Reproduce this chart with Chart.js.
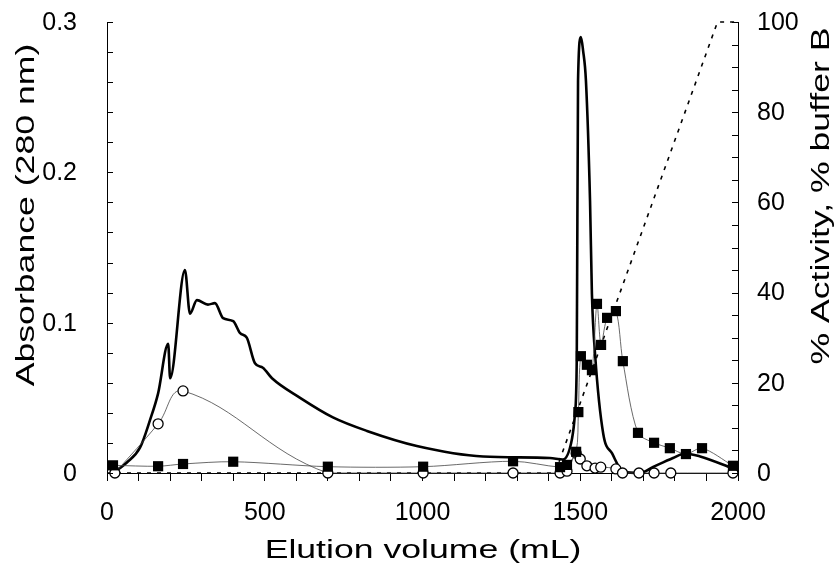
<!DOCTYPE html>
<html>
<head>
<meta charset="utf-8">
<script src="https://cdn.jsdelivr.net/npm/chart.js@4"></script>
<style>
html,body{margin:0;padding:0;background:#fff;}
#wrap{width:837px;height:572px;position:relative;}
</style>
</head>
<body>
<div id="wrap"><canvas id="c" width="837" height="572"></canvas></div>
<script>
// Absorbance at 280 nm (left axis)
const volAbs = [19, 63, 105, 136, 162, 194, 200, 247, 263, 285, 320, 342, 368, 400, 422, 443, 469, 494, 523, 612, 716, 824, 982, 1192, 1404, 1445, 1474, 1483, 1489, 1493, 1502, 1509, 1518, 1531, 1537, 1547, 1573, 1601, 1636, 1690, 1731, 1794, 1832, 1880, 1984];
const absorbance = [0.000, 0.007, 0.017, 0.035, 0.053, 0.086, 0.063, 0.135, 0.106, 0.115, 0.112, 0.113, 0.103, 0.101, 0.093, 0.090, 0.073, 0.070, 0.063, 0.050, 0.037, 0.028, 0.018, 0.011, 0.010, 0.009, 0.023, 0.039, 0.077, 0.261, 0.290, 0.281, 0.261, 0.181, 0.119, 0.079, 0.026, 0.013, 0.001, 0.000, 0.004, 0.010, 0.013, 0.011, 0.003];

// % activity, filled squares (right axis)
const volSquares = [19, 162, 241, 400, 700, 1002, 1287, 1436, 1458, 1487, 1494, 1502, 1521, 1537, 1553, 1566, 1585, 1613, 1635, 1683, 1734, 1784, 1835, 1886, 1984];
const activitySquares = [1.7, 1.5, 2.0, 2.5, 1.4, 1.4, 2.6, 1.3, 1.8, 4.7, 13.5, 25.9, 24.0, 22.8, 37.5, 28.4, 34.4, 35.9, 24.8, 8.9, 6.7, 5.5, 4.2, 5.5, 1.6];

// % activity, open circles (right axis)
const volCircles = [25, 162, 241, 700, 1002, 1287, 1436, 1458, 1487, 1500, 1521, 1547, 1565, 1613, 1634, 1686, 1734, 1787, 1984];
const activityCircles = [0, 10.9, 18.2, 0, 0, 0, 0, 0.4, 4.4, 3.1, 1.6, 1.1, 1.3, 0.9, 0, 0, 0, 0, 0];

// % buffer B gradient (right axis)
const volBufferB = [0, 1420, 1935, 2000];
const bufferB = [0, 0, 100, 100];

const xLabelValues = [0, 500, 1000, 1500, 2000];
const yLabelValues = [0, 0.1, 0.2, 0.3];
const yLabelText = ['0', '0.1', '0.2', '0.3'];
const y2LabelValues = [0, 20, 40, 60, 80, 100];

const FONT = "'Liberation Sans', Arial, Helvetica, sans-serif";
const pts = (xs, ys) => xs.map((x, i) => ({x: x, y: ys[i]}));
const near = (v, list) => list.some(l => Math.abs(l - v) < 1e-6);

const decor = {
  id: 'decor',
  afterDraw(chart) {
    const ctx = chart.ctx, a = chart.chartArea;
    const y = chart.scales.y, y2 = chart.scales.y2;
    ctx.save();
    ctx.strokeStyle = '#000';
    ctx.lineWidth = 1;
    ctx.beginPath();
    y.ticks.forEach(t => {
      const p = Math.round(y.getPixelForValue(t.value)) + 0.5;
      ctx.moveTo(a.left, p); ctx.lineTo(a.left + 6, p);
    });
    y2.ticks.forEach(t => {
      const p = Math.round(y2.getPixelForValue(t.value)) + 0.5;
      ctx.moveTo(a.right - 6, p); ctx.lineTo(a.right, p);
    });
    ctx.stroke();
    // tick labels
    ctx.fillStyle = '#000';
    ctx.font = '25px ' + FONT;
    ctx.textBaseline = 'middle';
    ctx.textAlign = 'right';
    yLabelValues.forEach((v, i) => ctx.fillText(yLabelText[i], a.left - 30, y.getPixelForValue(v) + 1));
    ctx.textAlign = 'left';
    y2LabelValues.forEach(v => ctx.fillText(String(v), a.right + 19, y2.getPixelForValue(v) + 1));
    const title = (txt, cx, cy, rot) => {
      ctx.save();
      ctx.translate(cx, cy);
      ctx.rotate(rot);
      ctx.scale(1.37, 1);
      ctx.font = '26px ' + FONT;
      ctx.fillStyle = '#000';
      ctx.textAlign = 'center';
      ctx.textBaseline = 'middle';
      ctx.fillText(txt, 0, 0);
      ctx.restore();
    };
    title('Elution volume (mL)', 423, 551, 0);
    title('Absorbance (280 nm)', 27, 215, -Math.PI / 2);
    title('% Activity, % buffer B', 822, 196, -Math.PI / 2);
    ctx.restore();
  }
};

new Chart(document.getElementById('c'), {
  type: 'line',
  data: {
    datasets: [
      {
        label: 'Activity (squares)',
        data: pts(volSquares, activitySquares),
        yAxisID: 'y2',
        borderColor: '#444',
        borderWidth: 0.8,
        tension: 0.3,
        pointStyle: 'rect',
        pointRadius: 7.2,
        pointBackgroundColor: '#000',
        pointBorderColor: '#000',
        pointBorderWidth: 0,
        clip: false,
        order: 0
      },
      {
        label: 'Activity (circles)',
        data: pts(volCircles, activityCircles),
        yAxisID: 'y2',
        borderColor: '#444',
        borderWidth: 0.8,
        tension: 0.4,
        pointStyle: 'circle',
        pointRadius: 5,
        pointBackgroundColor: '#fff',
        pointBorderColor: '#000',
        pointBorderWidth: 1.3,
        clip: false,
        order: 1
      },
      {
        label: 'Absorbance',
        data: pts(volAbs, absorbance),
        yAxisID: 'y',
        borderColor: '#000',
        borderWidth: 2.6,
        cubicInterpolationMode: 'monotone',
        pointRadius: 0,
        clip: false,
        order: 2
      },
      {
        label: '% buffer B',
        data: pts(volBufferB, bufferB),
        yAxisID: 'y2',
        borderColor: '#000',
        borderWidth: 1.6,
        borderDash: [4, 6],
        tension: 0,
        pointRadius: 0,
        clip: false,
        order: 3
      }
    ]
  },
  options: {
    responsive: false,
    animation: false,
    events: [],
    layout: {padding: {top: 22, left: 0, right: 0, bottom: 0}},
    plugins: {legend: {display: false}, tooltip: {enabled: false}},
    scales: {
      x: {
        type: 'linear',
        min: 0, max: 2000,
        afterFit(s) { s.height = 99; s.paddingLeft = 0; s.paddingRight = 0; },
        border: {display: true, color: '#000', width: 1},
        grid: {drawOnChartArea: false, drawTicks: true, tickLength: 8, color: '#000', tickColor: '#000'},
        ticks: {
          stepSize: 100, autoSkip: false, maxRotation: 0, padding: 17,
          color: '#000', font: {family: FONT, size: 25},
          callback: v => near(v, xLabelValues) ? String(v) : ''
        }
      },
      y: {
        type: 'linear', position: 'left',
        min: 0, max: 0.3,
        afterFit(s) { s.width = 107; s.paddingTop = 0; s.paddingBottom = 0; },
        border: {display: true, color: '#000', width: 1},
        grid: {display: false, drawTicks: false},
        ticks: {stepSize: 0.02, autoSkip: false, display: false}
      },
      y2: {
        type: 'linear', position: 'right',
        min: 0, max: 100,
        afterFit(s) { s.width = 99; s.paddingTop = 0; s.paddingBottom = 0; },
        border: {display: true, color: '#000', width: 1},
        grid: {display: false, drawTicks: false},
        ticks: {stepSize: 5, autoSkip: false, display: false}
      }
    }
  },
  plugins: [decor]
});
</script>
</body>
</html>
